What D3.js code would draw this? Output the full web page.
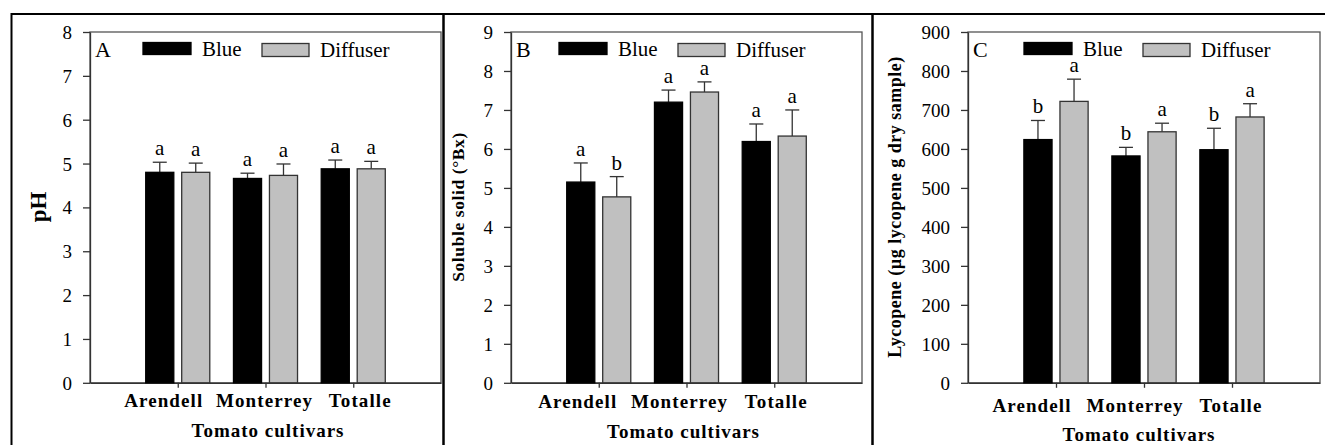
<!DOCTYPE html>
<html lang="en">
<head>
<meta charset="UTF-8">
<title>Tomato cultivars</title>
<script src="https://d3js.org/d3.v7.min.js"></script>
<style>
  body { margin: 0; background: #fff; }
  svg { display: block; font-family: "Liberation Serif", "Times New Roman", serif; }
</style>
</head>
<body>
<svg width="1325" height="445" id="mainsvg"></svg>
<script>
// data
const cultivars = ['Arendell', 'Monterrey', 'Totalle'];
const treatments = ['Blue', 'Diffuser'];

const phBlue = [4.80, 4.66, 4.88];
const phBlueSE = [0.23, 0.12, 0.20];
const phDiffuser = [4.80, 4.73, 4.88];
const phDiffuserSE = [0.21, 0.26, 0.17];
const phBlueLetters = ['a', 'a', 'a'];
const phDiffuserLetters = ['a', 'a', 'a'];
const phTicks = [0, 1, 2, 3, 4, 5, 6, 7, 8];

const ssBlue = [5.15, 7.20, 6.19];
const ssBlueSE = [0.49, 0.31, 0.45];
const ssDiffuser = [4.77, 7.46, 6.33];
const ssDiffuserSE = [0.52, 0.26, 0.67];
const ssBlueLetters = ['a', 'a', 'a'];
const ssDiffuserLetters = ['b', 'a', 'a'];
const ssTicks = [0, 1, 2, 3, 4, 5, 6, 7, 8, 9];

const lycBlue = [624, 582, 598];
const lycBlueSE = [49, 22, 55];
const lycDiffuser = [722, 644, 682];
const lycDiffuserSE = [57, 22, 34];
const lycBlueLetters = ['b', 'b', 'b'];
const lycDiffuserLetters = ['a', 'a', 'a'];
const lycTicks = [0, 100, 200, 300, 400, 500, 600, 700, 800, 900];

// panel layout
const panels = [
  { tag: 'A', ylabel: 'pH', ylabelSize: 23, ylabelX: 46, ylabelSpacing: 0,
    x0: 90, x1: 441, legendDx: 53, labelShift: [-14, -1, 7], labelY: 407, titleY: 437, titleDx: 2.5,
    ticks: phTicks, series: [[phBlue, phBlueSE, phBlueLetters], [phDiffuser, phDiffuserSE, phDiffuserLetters]] },
  { tag: 'B', ylabel: 'Soluble solid (°Bx)', ylabelSize: 17.5, ylabelX: 464, ylabelSpacing: 0.6,
    x0: 511, x1: 862, legendDx: 48, labelShift: [-21, -7, 2], labelY: 408, titleY: 438, titleDx: -3,
    ticks: ssTicks, series: [[ssBlue, ssBlueSE, ssBlueLetters], [ssDiffuser, ssDiffuserSE, ssDiffuserLetters]] },
  { tag: 'C', ylabel: 'Lycopene (µg lycopene g dry sample)', ylabelSize: 18, ylabelX: 901, ylabelSpacing: 0.5,
    x0: 968, x1: 1320, legendDx: 56, labelShift: [-24, -9, -1], labelY: 412, titleY: 441, titleDx: -5,
    ticks: lycTicks, series: [[lycBlue, lycBlueSE, lycBlueLetters], [lycDiffuser, lycDiffuserSE, lycDiffuserLetters]] }
];

const fills = ['#000000', '#c0c0c0'];
const barOffset = [-0.365, 0.045];
const barWidth = 0.32;

const svg = d3.select('#mainsvg');
svg.append('rect').attr('width', 1325).attr('height', 445).attr('fill', '#fff');

// outer frame and dividers
svg.append('line').attr('x1', 11).attr('x2', 1325).attr('y1', 14).attr('y2', 14)
  .attr('stroke', '#000').attr('stroke-width', 2);
svg.append('line').attr('x1', 11.5).attr('x2', 11.5).attr('y1', 13).attr('y2', 445)
  .attr('stroke', '#000').attr('stroke-width', 2);
[443.5, 872.5].forEach(xv => {
  svg.append('line').attr('x1', xv).attr('x2', xv).attr('y1', 13).attr('y2', 445)
    .attr('stroke', '#000').attr('stroke-width', 2.5);
});

panels.forEach(p => {
  const ymax = p.ticks[p.ticks.length - 1];
  const x = d3.scaleLinear().domain([0, 4]).range([p.x0, p.x1]);
  const y = d3.scaleLinear().domain([0, ymax]).range([382.8, 32]);
  const g = svg.append('g');

  // plot frame
  g.append('rect')
    .attr('x', p.x0).attr('y', y(ymax))
    .attr('width', p.x1 - p.x0).attr('height', y(0) - y(ymax))
    .attr('fill', 'none').attr('stroke', '#555').attr('stroke-width', 1.3);

  // y axis
  const yAxis = d3.axisLeft(y).tickValues(p.ticks).tickSize(7).tickPadding(11).tickSizeOuter(0);
  const ya = g.append('g').attr('transform', `translate(${p.x0},0)`).call(yAxis);
  ya.select('.domain').attr('stroke', '#333').attr('stroke-width', 1.3);
  ya.selectAll('.tick line').attr('stroke', '#333').attr('stroke-width', 1.3);
  ya.selectAll('.tick text').attr('font-size', 19).attr('font-family', '"Liberation Serif", serif')
    .attr('fill', '#000').attr('dy', '0.34em');

  // x axis
  const xAxis = d3.axisBottom(x).tickValues([1, 2, 3]).tickSize(5).tickFormat('').tickSizeOuter(0);
  const xa = g.append('g').attr('transform', `translate(0,${y(0)})`).call(xAxis);
  xa.select('.domain').attr('stroke', '#333').attr('stroke-width', 1.3);
  xa.selectAll('.tick line').attr('stroke', '#333').attr('stroke-width', 1.3);

  // category labels
  cultivars.forEach((c, i) => {
    g.append('text').text(c)
      .attr('x', x(i + 1) + p.labelShift[i]).attr('y', p.labelY)
      .attr('text-anchor', 'middle').attr('font-size', 19).attr('font-weight', 'bold')
      .attr('letter-spacing', 1.1);
  });
  g.append('text').text('Tomato cultivars')
    .attr('x', (p.x0 + p.x1) / 2 + p.titleDx).attr('y', p.titleY)
    .attr('text-anchor', 'middle').attr('font-size', 19).attr('font-weight', 'bold')
    .attr('letter-spacing', 1);

  // y label
  g.append('text').text(p.ylabel)
    .attr('transform', `translate(${p.ylabelX},207) rotate(-90)`)
    .attr('text-anchor', 'middle').attr('font-size', p.ylabelSize).attr('font-weight', 'bold')
    .attr('letter-spacing', p.ylabelSpacing);

  // bars, error bars, letters
  p.series.forEach((s, k) => {
    const [vals, se, letters] = s;
    vals.forEach((v, i) => {
      const bx = x(i + 1 + barOffset[k]);
      const bw = x(barWidth) - x(0);
      const cx = bx + bw / 2;
      const top = y(v + se[i]);
      g.append('line').attr('x1', cx).attr('x2', cx).attr('y1', y(v)).attr('y2', top)
        .attr('stroke', '#333').attr('stroke-width', 1.3);
      g.append('line').attr('x1', cx - 7).attr('x2', cx + 7).attr('y1', top).attr('y2', top)
        .attr('stroke', '#333').attr('stroke-width', 1.3);
      g.append('rect')
        .attr('x', bx).attr('y', y(v)).attr('width', bw).attr('height', y(0) - y(v))
        .attr('fill', fills[k]).attr('stroke', k === 0 ? '#000' : '#333').attr('stroke-width', 1.3);
      g.append('text').text(letters[i])
        .attr('x', cx).attr('y', top - 7)
        .attr('text-anchor', 'middle').attr('font-size', 21);
    });
  });

  // panel tag and legend
  g.append('text').text(p.tag).attr('x', p.x0 + 5).attr('y', 57).attr('font-size', 22);
  const lx = p.x0 + p.legendDx;
  g.append('rect').attr('x', lx).attr('y', 42.5).attr('width', 48).attr('height', 12)
    .attr('fill', fills[0]).attr('stroke', '#000').attr('stroke-width', 1.3);
  g.append('text').text(treatments[0]).attr('x', lx + 59).attr('y', 55.5).attr('font-size', 21);
  g.append('rect').attr('x', lx + 119).attr('y', 43.5).attr('width', 47).attr('height', 13)
    .attr('fill', fills[1]).attr('stroke', '#333').attr('stroke-width', 1.3);
  g.append('text').text(treatments[1]).attr('x', lx + 177).attr('y', 57).attr('font-size', 21);
});
</script>
</body>
</html>
